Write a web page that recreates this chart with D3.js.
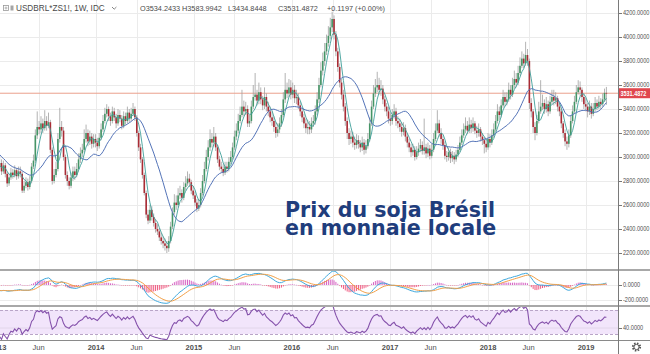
<!DOCTYPE html>
<html><head><meta charset="utf-8">
<script src="https://cdn.jsdelivr.net/npm/d3@7/dist/d3.min.js"></script>
<style>html,body{margin:0;padding:0;background:#fff;overflow:hidden}text{font-family:"Liberation Sans",Arial,sans-serif}</style>
</head><body><svg id="c" width="650" height="354"></svg>
<script>
// ---------- DATA (weekly bars, USDBRL*ZS1!) ----------
const firstWeek = "2012-12-31";
// weeks before the visible range (used only to warm up the indicators)
const preCloses = [3250,3280,3240,3200,3180,3150,3120,3100,3050,3000,2980,2950,2940,2960,2980,2970,2950,2930,2920,2900];

const close2013 = [2920,2950,2880,2930,2860,2780,2830,2870,2850,2890,2840,2880,2860,2720,2760,2790,2750,2800,2920,2970,3180,3250,3230,3280,3240,3300,3260,3290,3060,2800,2850,2900,3150,3250,3220,3000,2850,2800,2760,2830,2880,2850,2900,2980,3030,3060,3150,3200,3130,3170,3110,3150];
const high2013  = [2960,2990,2980,2970,2950,2880,2860,2910,2900,2930,2910,2920,2920,2880,2800,2830,2820,2840,2950,3020,3230,3380,3300,3340,3320,3390,3340,3370,3310,3080,2900,2960,3200,3410,3300,3250,3020,2880,2830,2870,2920,2920,2950,3030,3080,3110,3230,3270,3230,3220,3200,3190];
const low2013   = [2870,2900,2850,2860,2830,2750,2760,2810,2820,2830,2810,2820,2830,2700,2700,2740,2720,2730,2780,2900,2950,3150,3190,3200,3200,3220,3220,3240,3030,2770,2780,2830,2880,3120,3170,2970,2820,2760,2730,2740,2800,2810,2830,2880,2950,3000,3040,3120,3090,3100,3070,3080];

const close2014 = [3120,3090,3160,3230,3300,3360,3400,3340,3300,3380,3330,3280,3350,3320,3260,3340,3300,3370,3320,3360,3400,3330,3200,3080,2980,2850,2700,2520,2470,2560,2500,2450,2400,2380,2330,2300,2280,2260,2240,2300,2420,2540,2620,2600,2680,2700,2660,2750,2780,2820,2790,2720];
const high2014  = [3190,3160,3200,3280,3350,3410,3440,3420,3370,3420,3410,3360,3400,3390,3350,3380,3370,3420,3400,3410,3450,3420,3350,3220,3110,3000,2870,2720,2560,2600,2590,2530,2480,2440,2410,2370,2340,2320,2300,2340,2460,2580,2690,2680,2740,2760,2730,2790,2840,2880,2860,2810];
const low2014   = [3080,3050,3070,3140,3210,3280,3330,3300,3260,3280,3300,3240,3260,3290,3230,3240,3270,3280,3290,3300,3340,3300,3170,3050,2950,2820,2680,2490,2440,2450,2470,2420,2370,2350,2300,2270,2240,2220,2200,2210,2280,2400,2520,2560,2580,2650,2620,2640,2720,2760,2750,2690];

const close2015 = [2680,2620,2570,2600,2700,2800,2900,3000,3080,3150,3120,3170,3080,2980,2920,2900,2870,2920,2900,2960,3000,3080,3170,3220,3300,3350,3420,3380,3400,3280,3300,3420,3500,3520,3470,3540,3480,3430,3500,3420,3380,3330,3300,3250,3200,3230,3280,3350,3480,3560,3530,3580];
const high2015  = [2760,2710,2650,2650,2740,2850,2960,3060,3140,3230,3200,3250,3200,3100,3010,2960,2940,2960,2960,3000,3050,3120,3220,3280,3360,3420,3560,3470,3460,3430,3350,3470,3600,3700,3560,3620,3580,3510,3580,3530,3460,3420,3380,3340,3290,3280,3330,3400,3540,3700,3620,3650];
const low2015   = [2650,2590,2540,2550,2580,2680,2780,2880,2970,3050,3080,3090,3050,2950,2890,2870,2840,2850,2870,2880,2940,2980,3060,3140,3200,3280,3330,3340,3350,3250,3250,3280,3400,3470,3430,3440,3440,3390,3400,3380,3340,3290,3260,3210,3160,3170,3200,3250,3330,3450,3490,3500];

const close2016 = [3520,3560,3490,3500,3430,3380,3330,3280,3240,3250,3230,3280,3300,3380,3480,3600,3720,3800,3880,3950,4010,4080,4150,4020,3880,3750,3620,3520,3420,3300,3200,3150,3170,3120,3100,3140,3110,3080,3120,3060,3090,3150,3280,3420,3530,3580,3600,3560,3570,3480,3420,3380];
const high2016  = [3640,3620,3600,3560,3530,3460,3410,3360,3320,3310,3300,3330,3350,3430,3540,3660,3790,3870,3950,4020,4090,4160,4210,4180,4050,3910,3780,3650,3560,3450,3330,3240,3220,3210,3170,3190,3180,3140,3170,3150,3140,3200,3330,3470,3600,3650,3710,3660,3640,3600,3510,3450];
const low2016   = [3480,3490,3450,3440,3400,3340,3290,3240,3200,3190,3190,3200,3250,3270,3350,3450,3580,3680,3760,3850,3920,3980,4040,3980,3840,3710,3580,3480,3380,3260,3150,3100,3110,3080,3060,3070,3070,3040,3050,3020,3030,3070,3130,3260,3400,3500,3540,3520,3510,3440,3380,3340];

const close2017 = [3320,3300,3350,3380,3300,3280,3250,3210,3240,3170,3120,3080,3040,3060,3000,3040,3070,3100,3050,3080,3030,3070,3010,3060,3150,3220,3280,3200,3150,3100,3010,3000,3040,2990,3010,2980,3020,3060,3120,3180,3230,3260,3220,3270,3240,3280,3220,3200,3230,3170,3140,3110];
const high2017  = [3420,3370,3400,3440,3410,3340,3320,3290,3290,3270,3200,3150,3110,3110,3090,3090,3120,3150,3130,3320,3110,3120,3100,3110,3200,3280,3390,3310,3240,3180,3130,3050,3080,3070,3050,3040,3060,3100,3170,3230,3280,3330,3300,3330,3310,3330,3300,3260,3280,3250,3200,3170];
const low2017   = [3280,3260,3270,3320,3260,3240,3210,3170,3180,3130,3080,3040,3000,3010,2970,2980,3010,3040,3020,3020,2990,3000,2980,2990,3040,3130,3200,3170,3110,3060,2980,2960,2970,2950,2960,2940,2960,3000,3040,3100,3160,3200,3190,3200,3200,3210,3190,3160,3170,3130,3100,3030];

const close2018 = [3080,3150,3120,3180,3230,3300,3380,3350,3430,3500,3460,3480,3560,3520,3600,3650,3620,3700,3760,3820,3780,3850,3800,3450,3380,3250,3200,3300,3380,3420,3450,3400,3440,3380,3460,3500,3470,3490,3420,3380,3280,3200,3130,3110,3180,3300,3380,3460,3540,3580,3560,3500];
const high2018  = [3150,3200,3190,3230,3280,3350,3440,3420,3480,3560,3540,3540,3620,3600,3660,3720,3700,3760,3830,3880,3860,3960,3900,3820,3490,3400,3290,3350,3460,3640,3520,3480,3500,3470,3510,3560,3560,3540,3510,3450,3400,3300,3230,3170,3230,3350,3430,3510,3600,3640,3630,3580];
const low2018   = [3040,3060,3080,3100,3160,3210,3280,3310,3330,3410,3420,3430,3460,3480,3500,3570,3580,3600,3680,3740,3740,3760,3760,3400,3330,3200,3140,3180,3280,3360,3390,3360,3370,3340,3360,3440,3430,3440,3380,3340,3240,3160,3090,3060,3080,3160,3280,3360,3440,3520,3510,3460];

const close2019 = [3440,3420,3380,3420,3360,3400,3450,3420,3460,3440,3480,3534.2433,3531.4872];
const high2019  = [3530,3490,3450,3470,3450,3450,3500,3480,3510,3490,3530,3570,3583.9942];
const low2019   = [3400,3380,3330,3350,3320,3340,3380,3390,3400,3400,3420,3460,3434.8448];

const priceTicks = [2200,2400,2600,2800,3000,3200,3400,3600,3800,4000,4200];
const macdTicks = [0,-200];
const rsiTicks = [40];
const timeTickDates = ["2013-01-01","2013-06-01","2014-01-01","2014-06-01","2015-01-01","2015-06-01","2016-01-01","2016-06-01","2017-01-01","2017-06-01","2018-01-01","2018-06-01","2019-01-01"];
const timeTickLabels = ["2013","Jun","2014","Jun","2015","Jun","2016","Jun","2017","Jun","2018","Jun","2019"];
const lastPrice = 3531.4872;
const headerSymbol = "USDBRL*ZS1!, 1W, IDC";
const headerValues = ["O3534.2433","H3583.9942","L3434.8448","C3531.4872","+0.1197 (+0.00%)"];
const titleLines = ["Prix du soja Brésil","en monnaie locale"];

// ---------- BUILD ----------
const parse = d3.timeParse("%Y-%m-%d");
const closes = [].concat(close2013,close2014,close2015,close2016,close2017,close2018,close2019);
const highs  = [].concat(high2013,high2014,high2015,high2016,high2017,high2018,high2019);
const lows   = [].concat(low2013,low2014,low2015,low2016,low2017,low2018,low2019);
const start = parse(firstWeek);
const bars = closes.map((c,i)=>({date:d3.timeDay.offset(start,7*i),
  o: i? closes[i-1] : preCloses[preCloses.length-1], h:highs[i], l:lows[i], c}));
const all = preCloses.concat(closes), off = preCloses.length;

function sma(n){return all.map((v,k)=>k<n-1?null:d3.mean(all.slice(k-n+1,k+1)));}
function ema(arr,n){const a=2/(n+1);let e=arr[0];return arr.map((v,k)=>k===0?e:(e=a*v+(1-a)*e));}
const ma20 = sma(20), ma5 = sma(5);
const e12 = ema(all,12), e26 = ema(all,26);
const macd = all.map((v,k)=>e12[k]-e26[k]);
const sig = ema(macd,9);
const rsi = (function(){const n=14,out=all.map(()=>null);let ag=0,al=0;
  for(let k=1;k<=n;k++){const d=all[k]-all[k-1];ag+=Math.max(d,0);al+=Math.max(-d,0);}
  ag/=n;al/=n;out[n]=100-100/(1+ag/al);
  for(let k=n+1;k<all.length;k++){const d=all[k]-all[k-1];ag=(ag*(n-1)+Math.max(d,0))/n;al=(al*(n-1)+Math.max(-d,0))/n;out[k]=al===0?100:100-100/(1+ag/al);}
  return out;})();
bars.forEach((b,i)=>{const k=i+off;b.ma20=ma20[k];b.ma5=ma5[k];b.macd=macd[k];b.sig=sig[k];b.hist=macd[k]-sig[k];b.rsi=rsi[k];});

// ---------- SCALES ----------
const X1 = 618;
const x = d3.scaleTime().domain([parse("2014-01-01"),parse("2019-01-01")]).range([96,586]);
const yP = d3.scaleLinear().domain([2200,4200]).range([253,13]);
const yM = d3.scaleLinear().domain([-200,0]).range([300,285]);
const yR = d3.scaleLinear().domain([30,70]).range([334,310]);

const svg = d3.select("#c");
svg.append("rect").attr("width",650).attr("height",354).attr("fill","#fff");
const defs = svg.append("defs");
[["cm",0,0,269],["cd",0,271,34],["cr",0,307,33]].forEach(([id,x0,y0,h])=>
  defs.append("clipPath").attr("id",id).append("rect").attr("x",x0).attr("y",y0).attr("width",X1).attr("height",h));

// grid
const grid = svg.append("g").attr("stroke","#ebebeb").attr("stroke-width",1);
timeTickDates.forEach(d=>{const xx=Math.round(x(parse(d)))+0.5;
  grid.append("line").attr("x1",xx).attr("x2",xx).attr("y1",0).attr("y2",340);});
priceTicks.forEach(p=>{const yy=Math.round(yP(p))+0.5;grid.append("line").attr("x1",0).attr("x2",X1).attr("y1",yy).attr("y2",yy);});
macdTicks.forEach(p=>{const yy=Math.round(yM(p))+0.5;grid.append("line").attr("x1",0).attr("x2",X1).attr("y1",yy).attr("y2",yy);});

// RSI band
const gr = svg.append("g").attr("clip-path","url(#cr)");
gr.append("rect").attr("x",0).attr("width",X1).attr("y",yR(70)).attr("height",yR(30)-yR(70)).attr("fill","#f2e5fb");
rsiTicks.forEach(p=>gr.append("line").attr("x1",0).attr("x2",X1).attr("y1",yR(p)).attr("y2",yR(p)).attr("stroke","#e2d6ea"));
[70,30].forEach(p=>gr.append("line").attr("x1",0).attr("x2",X1).attr("y1",yR(p)+0.5).attr("y2",yR(p)+0.5)
  .attr("stroke","#b9a5c8").attr("stroke-dasharray","3,2"));
gr.append("path").datum(bars).attr("fill","none").attr("stroke","#8552ab").attr("stroke-width",1.1)
  .attr("d",d3.line().x(d=>x(d.date)).y(d=>yR(d.rsi)));

// MACD
const gd = svg.append("g").attr("clip-path","url(#cd)");
gd.selectAll("rect.h").data(bars).join("rect").attr("class","h")
  .attr("x",d=>x(d.date)-0.5).attr("width",1)
  .attr("y",d=>Math.min(yM(0),yM(d.hist))).attr("height",d=>Math.max(0.5,Math.abs(yM(d.hist)-yM(0))))
  .attr("fill",d=>d.hist>=0?"#d763c4":"#ef5a80");
gd.append("path").datum(bars).attr("fill","none").attr("stroke","#3ea8dd").attr("stroke-width",1)
  .attr("d",d3.line().x(d=>x(d.date)).y(d=>yM(d.macd)));
gd.append("path").datum(bars).attr("fill","none").attr("stroke","#f2a048").attr("stroke-width",1)
  .attr("d",d3.line().x(d=>x(d.date)).y(d=>yM(d.sig)));

// main pane
const gm = svg.append("g").attr("clip-path","url(#cm)");
gm.append("line").attr("x1",0).attr("x2",X1).attr("y1",yP(lastPrice)).attr("y2",yP(lastPrice)).attr("stroke","#eaa08c").attr("stroke-width",1);
gm.selectAll("line.w").data(bars).join("line").attr("class","w")
  .attr("x1",d=>x(d.date)).attr("x2",d=>x(d.date)).attr("y1",d=>yP(d.h)).attr("y2",d=>yP(d.l))
  .attr("stroke","#a0a0a0").attr("stroke-width",0.8);
gm.selectAll("rect.b").data(bars).join("rect").attr("class","b")
  .attr("x",d=>x(d.date)-0.8).attr("width",1.6)
  .attr("y",d=>yP(Math.max(d.o,d.c))).attr("height",d=>Math.max(0.7,Math.abs(yP(d.o)-yP(d.c))))
  .attr("fill",d=>d.c>=d.o?"#459566":"#aa2c35");
gm.append("path").datum(bars).attr("fill","none").attr("stroke","#3f9f9a").attr("stroke-width",0.9)
  .attr("d",d3.line().defined(d=>d.ma5!=null).x(d=>x(d.date)).y(d=>yP(d.ma5)));
gm.append("path").datum(bars).attr("fill","none").attr("stroke","#5474b8").attr("stroke-width",1)
  .attr("d",d3.line().defined(d=>d.ma20!=null).x(d=>x(d.date)).y(d=>yP(d.ma20)));

// separators and axis lines
const sep = svg.append("g");
[270,306].forEach(yy=>sep.append("line").attr("x1",0).attr("x2",650).attr("y1",yy).attr("y2",yy).attr("stroke","#a8a8a8").attr("stroke-width",2));
sep.append("line").attr("x1",0).attr("x2",650).attr("y1",340.5).attr("y2",340.5).attr("stroke","#8a8a8a").attr("stroke-width",1);
sep.append("line").attr("x1",X1+0.5).attr("x2",X1+0.5).attr("y1",0).attr("y2",354).attr("stroke","#7a7a7a").attr("stroke-width",1);

// right axis labels (horizontally condensed so they fit the narrow axis)
const ax = svg.append("g").attr("font-size","7px").attr("fill","#505050");
function rlabel(yy,txt){ax.append("line").attr("x1",619).attr("x2",622).attr("y1",Math.round(yy)+0.5).attr("y2",Math.round(yy)+0.5).attr("stroke","#777");
  ax.append("text").attr("transform",`translate(623,${yy}) scale(0.8,1)`).attr("dy","0.35em").text(txt);}
priceTicks.forEach(p=>rlabel(yP(p),d3.format(".4f")(p)));
macdTicks.forEach(p=>rlabel(yM(p),d3.format(".4f")(p).replace("−","-")));
rsiTicks.forEach(p=>rlabel(yR(p),d3.format(".4f")(p)));
// last price label
const ly = yP(lastPrice);
svg.append("rect").attr("x",619).attr("y",ly-5).attr("width",31).attr("height",10).attr("fill","#e0474e");
svg.append("text").attr("transform",`translate(620.5,${ly}) scale(0.78,1)`).attr("dy","0.35em").attr("font-size","7px").attr("font-weight","bold").attr("fill","#fff")
  .text(d3.format(".4f")(lastPrice));

// time axis labels
const tx = svg.append("g").attr("font-size","7.5px").attr("fill","#505050").attr("text-anchor","middle");
timeTickDates.forEach((d,i)=>tx.append("text").attr("x",x(parse(d))).attr("y",350)
  .attr("font-weight",timeTickLabels[i]==="Jun"?"normal":"bold").text(timeTickLabels[i]));

// gear icon
const gear = svg.append("g").attr("transform","translate(636.5,347)");
gear.append("circle").attr("r",3.6).attr("fill","none").attr("stroke","#555").attr("stroke-width",2).attr("stroke-dasharray","1.5,1.33");
gear.append("circle").attr("r",2.6).attr("fill","#fff").attr("stroke","#555").attr("stroke-width",1);

// header
const hd = svg.append("g").attr("fill","#4a4a4a");
hd.append("rect").attr("x",3.5).attr("y",5.5).attr("width",5).attr("height",5).attr("fill","none").attr("stroke","#9a9a9a").attr("stroke-width",0.8);
hd.append("path").attr("d","M4.5,8h3M6,6.5v3").attr("stroke","#9a9a9a").attr("stroke-width",0.7);
hd.append("rect").attr("x",10.5).attr("y",5.5).attr("width",3).attr("height",5).attr("fill","#a5a5a5");
hd.append("text").attr("x",16).attr("y",11).attr("font-size","8.2px").text(headerSymbol);
hd.append("path").attr("d","M112,7l2.2,2.2l2.2,-2.2").attr("fill","none").attr("stroke","#666").attr("stroke-width",0.8);
const hx = [140,182,228,278,327];
headerValues.forEach((t,i)=>hd.append("text").attr("x",hx[i]).attr("y",11).attr("font-size","7.3px").text(t));

// title (one text block, two lines)
const tt = svg.append("text").attr("x",285).attr("y",217).attr("font-weight","bold").attr("font-size","20.6px").attr("fill","#1f3d7c")
  .style("font-family","'DejaVu Sans',Verdana,sans-serif");
titleLines.forEach((t,i)=>tt.append("tspan").attr("x",285).attr("dy",i?18.3:0).text(t));
</script></body></html>
